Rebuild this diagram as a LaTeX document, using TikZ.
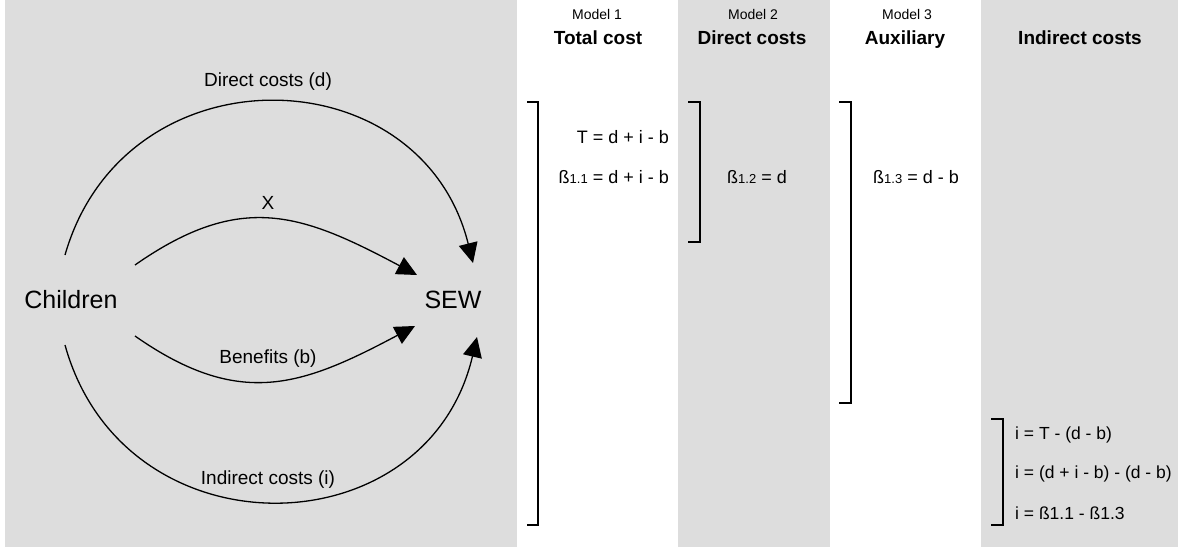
\documentclass[tikz,border=0pt]{standalone}
\usepackage{fontspec}
\setmainfont{Liberation Sans}
\usetikzlibrary{arrows.meta}
\definecolor{panel}{RGB}{221,221,221}
\newcommand{\bsub}[1]{ß{\fontsize{13}{15}\selectfont #1}}

\begin{document}
\begin{tikzpicture}[x=1pt,y=1pt,inner sep=0pt,
    arc/.style={line width=1.3pt,-{Triangle[length=20pt,width=19pt]}},
    brk/.style={line width=2pt},
    lbl/.style={font=\fontsize{19}{23}\selectfont},
    var node/.style={font=\fontsize{25}{30}\selectfont},
    eq/.style={font=\fontsize{18}{22}\selectfont},
    model/.style={font=\fontsize{14}{17}\selectfont,anchor=base},
    head/.style={font=\fontsize{19}{23}\selectfont\bfseries,anchor=base}]
  \useasboundingbox (0,0) rectangle (1178,547);
  \fill[panel] (5,0) rectangle (517,547);
  \fill[panel] (678,0) rectangle (830,547);
  \fill[panel] (981,0) rectangle (1178,547);

  % path diagram
  \node[var node] (children) at (71,247) {Children};
  \node[var node] (sew) at (453,247) {SEW};

  \draw[arc] ([shift={(-6,45)}]children.center) .. controls +(74:216) and +(104:216) .. ([shift={(20,37)}]sew.center);
  \draw[arc] ([shift={(64,35)}]children.center) .. controls +(35:130) and +(152:130) .. ([shift={(-36,25)}]sew.center);
  \draw[arc] ([shift={(64,-36)}]children.center) .. controls +(-35:128) and +(208:128) .. ([shift={(-38,-26)}]sew.center);
  \draw[arc] ([shift={(-6,-45)}]children.center) .. controls +(-74.5:220) and +(256.8:220) .. ([shift={(24,-37)}]sew.center);

  \node[lbl] (dlbl) at (268,465) {Direct costs (d)};
  \node[lbl] (xlbl) at (268,344) {X};
  \node[lbl] (blbl) at (268,188) {Benefits (b)};
  \node[lbl] (ilbl) at (268,67) {Indirect costs (i)};

  % column headers
  \node[model] (m1) at (597,527) {Model 1};
  \node[head] (h1) at (598,502) {Total cost};
  \node[model] (m2) at (753,527) {Model 2};
  \node[head] (h2) at (752,502) {Direct costs};
  \node[model] (m3) at (907,527) {Model 3};
  \node[head] (h3) at (905,502) {Auxiliary};
  \node[head] (h4) at (1080,502) {Indirect costs};

  % equations
  \node[eq,anchor=east] (tot) at (669,410) {T = d + i - b};
  \node[eq,anchor=east] (b11) at (669,370) {\bsub{1.1} = d + i - b};
  \node[eq] (b12) at (757,370) {\bsub{1.2} = d};
  \node[eq] (b13) at (916,370) {\bsub{1.3} = d - b};
  \node[eq,anchor=west,font=\fontsize{17.5}{21}\selectfont] (i1) at (1015,112) {i = T - (d - b)};
  \node[eq,anchor=west,font=\fontsize{17.5}{21}\selectfont] (i2) at (1015,73) {i = (d + i - b) - (d - b)};
  \node[eq,anchor=west,font=\fontsize{17.5}{21}\selectfont] (i3) at (1015,34) {i = ß1.1 - ß1.3};

  % brackets
  \draw[brk] (527,445) -- (538,445) -- (538,22) -- (527,22);
  \draw[brk] (688,445) -- (700,445) -- (700,305) -- (688,305);
  \draw[brk] (839,445) -- (851,445) -- (851,144) -- (839,144);
  \draw[brk] (991,128) -- (1003,128) -- (1003,22) -- (991,22);
\end{tikzpicture}
\end{document}
